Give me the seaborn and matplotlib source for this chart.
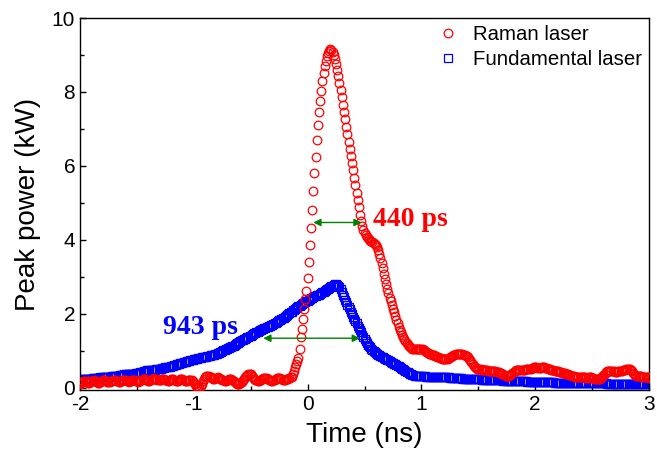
import numpy as np
import pandas as pd
import matplotlib
matplotlib.use("Agg")
import matplotlib.pyplot as plt
import seaborn as sns
from matplotlib.ticker import MultipleLocator

# Sampling grid of the measured traces (ns)
t_start, t_stop, n_samples = -2.0, 3.0, 501
time_ns = np.linspace(t_start, t_stop, n_samples)

# Raman laser peak power (kW), one value per 0.01 ns
raman_kw = [
    0.10, 0.12, 0.15, 0.17, 0.18, 0.17, 0.15, 0.13, 0.13, 0.15,
    0.17, 0.19, 0.20, 0.19, 0.17, 0.15, 0.14, 0.14, 0.16, 0.18,
    0.20, 0.21, 0.20, 0.18, 0.16, 0.15, 0.15, 0.17, 0.19, 0.21,
    0.22, 0.21, 0.19, 0.17, 0.16, 0.16, 0.18, 0.20, 0.22, 0.22,
    0.21, 0.19, 0.17, 0.16, 0.17, 0.19, 0.21, 0.22, 0.21, 0.19,
    0.17, 0.16, 0.17, 0.19, 0.22, 0.24, 0.25, 0.24, 0.22, 0.20,
    0.18, 0.18, 0.20, 0.23, 0.25, 0.26, 0.25, 0.23, 0.21, 0.20,
    0.20, 0.22, 0.24, 0.25, 0.24, 0.22, 0.20, 0.19, 0.19, 0.21,
    0.23, 0.24, 0.23, 0.21, 0.19, 0.18, 0.19, 0.21, 0.23, 0.24,
    0.23, 0.21, 0.19, 0.18, 0.18, 0.20, 0.22, 0.22, 0.20, 0.17,
    0.14, 0.10, 0.06, 0.03, 0.01, 0.02, 0.05, 0.10, 0.17, 0.24,
    0.29, 0.32, 0.33, 0.32, 0.30, 0.28, 0.26, 0.25, 0.25, 0.26,
    0.27, 0.28, 0.27, 0.25, 0.23, 0.21, 0.20, 0.19, 0.19, 0.20,
    0.22, 0.24, 0.25, 0.24, 0.22, 0.19, 0.16, 0.13, 0.11, 0.10,
    0.11, 0.13, 0.16, 0.20, 0.24, 0.28, 0.32, 0.35, 0.37, 0.37,
    0.36, 0.33, 0.29, 0.25, 0.22, 0.20, 0.19, 0.19, 0.20, 0.22,
    0.24, 0.26, 0.27, 0.27, 0.26, 0.24, 0.22, 0.20, 0.19, 0.19,
    0.20, 0.22, 0.24, 0.26, 0.27, 0.27, 0.26, 0.24, 0.22, 0.21,
    0.22, 0.23, 0.24, 0.25, 0.26, 0.28, 0.30, 0.38, 0.46, 0.56,
    0.64, 0.72, 0.81, 1.05, 1.36, 1.59, 1.86, 2.13, 2.40, 2.62,
    2.98, 3.39, 3.86, 4.33, 4.81, 5.32, 5.80, 6.25, 6.70, 7.10,
    7.46, 7.76, 8.03, 8.30, 8.52, 8.70, 8.84, 8.97, 9.06, 9.12,
    9.15, 9.14, 9.09, 9.01, 8.90, 8.76, 8.60, 8.42, 8.24, 8.05,
    7.86, 7.66, 7.46, 7.26, 7.06, 6.86, 6.66, 6.47, 6.28, 6.09,
    5.89, 5.68, 5.48, 5.28, 5.08, 4.88, 4.68, 4.52, 4.38, 4.26,
    4.18, 4.12, 4.08, 4.04, 4.01, 3.98, 3.96, 3.94, 3.92, 3.89,
    3.85, 3.80, 3.72, 3.62, 3.50, 3.37, 3.23, 3.08, 2.93, 2.80,
    2.68, 2.55, 2.44, 2.34, 2.24, 2.14, 2.04, 1.94, 1.84, 1.74,
    1.65, 1.57, 1.50, 1.43, 1.37, 1.31, 1.26, 1.21, 1.17, 1.13,
    1.10, 1.08, 1.06, 1.05, 1.04, 1.04, 1.05, 1.06, 1.06, 1.06,
    1.05, 1.04, 1.02, 1.00, 0.98, 0.96, 0.94, 0.92, 0.91, 0.90,
    0.89, 0.88, 0.87, 0.85, 0.84, 0.82, 0.81, 0.80, 0.79, 0.78,
    0.77, 0.77, 0.77, 0.78, 0.80, 0.82, 0.84, 0.86, 0.88, 0.90,
    0.91, 0.92, 0.92, 0.92, 0.92, 0.91, 0.91, 0.90, 0.89, 0.87,
    0.85, 0.82, 0.78, 0.74, 0.69, 0.64, 0.60, 0.57, 0.54, 0.52,
    0.51, 0.50, 0.50, 0.49, 0.49, 0.48, 0.48, 0.47, 0.47, 0.46,
    0.46, 0.46, 0.46, 0.46, 0.45, 0.45, 0.44, 0.43, 0.42, 0.41,
    0.40, 0.38, 0.36, 0.34, 0.33, 0.32, 0.32, 0.33, 0.35, 0.38,
    0.41, 0.44, 0.46, 0.47, 0.47, 0.47, 0.47, 0.47, 0.47, 0.48,
    0.48, 0.49, 0.50, 0.50, 0.50, 0.51, 0.52, 0.53, 0.54, 0.55,
    0.55, 0.55, 0.54, 0.53, 0.53, 0.54, 0.55, 0.55, 0.55, 0.54,
    0.53, 0.52, 0.51, 0.50, 0.49, 0.48, 0.47, 0.46, 0.46, 0.46,
    0.45, 0.44, 0.43, 0.42, 0.41, 0.40, 0.39, 0.38, 0.37, 0.36,
    0.35, 0.34, 0.33, 0.32, 0.31, 0.30, 0.29, 0.28, 0.28, 0.28,
    0.29, 0.30, 0.30, 0.29, 0.28, 0.27, 0.27, 0.28, 0.28, 0.28,
    0.27, 0.26, 0.25, 0.24, 0.23, 0.23, 0.23, 0.24, 0.26, 0.30,
    0.34, 0.38, 0.42, 0.45, 0.46, 0.46, 0.46, 0.45, 0.45, 0.45,
    0.44, 0.44, 0.44, 0.45, 0.46, 0.46, 0.46, 0.47, 0.48, 0.49,
    0.50, 0.51, 0.51, 0.50, 0.48, 0.45, 0.41, 0.37, 0.34, 0.32,
    0.31, 0.31, 0.31, 0.31, 0.30, 0.30, 0.29, 0.29, 0.28, 0.28, 0.27,
]

# Fundamental laser peak power (kW), one value per 0.01 ns
fundamental_kw = [
    0.23, 0.23, 0.23, 0.24, 0.24, 0.24, 0.24, 0.25, 0.25, 0.25,
    0.25, 0.26, 0.26, 0.26, 0.26, 0.27, 0.27, 0.27, 0.28, 0.28,
    0.28, 0.28, 0.29, 0.29, 0.29, 0.30, 0.30, 0.30, 0.31, 0.31,
    0.31, 0.32, 0.32, 0.33, 0.33, 0.34, 0.34, 0.35, 0.35, 0.36,
    0.36, 0.36, 0.37, 0.37, 0.37, 0.37, 0.37, 0.38, 0.38, 0.39,
    0.39, 0.40, 0.41, 0.42, 0.43, 0.44, 0.45, 0.46, 0.46, 0.47,
    0.47, 0.47, 0.48, 0.48, 0.48, 0.49, 0.49, 0.50, 0.50, 0.51,
    0.51, 0.52, 0.53, 0.54, 0.54, 0.55, 0.56, 0.56, 0.57, 0.57,
    0.58, 0.59, 0.60, 0.61, 0.62, 0.63, 0.64, 0.65, 0.66, 0.67,
    0.68, 0.69, 0.70, 0.71, 0.72, 0.72, 0.73, 0.74, 0.75, 0.76,
    0.77, 0.78, 0.78, 0.79, 0.80, 0.80, 0.81, 0.82, 0.82, 0.83,
    0.84, 0.84, 0.85, 0.86, 0.87, 0.88, 0.89, 0.89, 0.90, 0.91,
    0.92, 0.93, 0.95, 0.96, 0.98, 0.99, 1.01, 1.02, 1.04, 1.05,
    1.07, 1.08, 1.10, 1.11, 1.13, 1.14, 1.16, 1.18, 1.20, 1.22,
    1.24, 1.26, 1.28, 1.30, 1.31, 1.33, 1.35, 1.37, 1.38, 1.40,
    1.41, 1.43, 1.45, 1.47, 1.48, 1.50, 1.52, 1.53, 1.55, 1.56,
    1.58, 1.59, 1.61, 1.62, 1.64, 1.65, 1.67, 1.68, 1.70, 1.71,
    1.72, 1.74, 1.76, 1.78, 1.80, 1.82, 1.84, 1.86, 1.88, 1.90,
    1.92, 1.94, 1.96, 1.99, 2.01, 2.04, 2.06, 2.09, 2.11, 2.14,
    2.16, 2.18, 2.20, 2.22, 2.24, 2.26, 2.28, 2.30, 2.32, 2.34,
    2.36, 2.38, 2.40, 2.42, 2.44, 2.46, 2.48, 2.49, 2.50, 2.51,
    2.52, 2.54, 2.56, 2.58, 2.60, 2.62, 2.64, 2.66, 2.68, 2.70,
    2.72, 2.74, 2.76, 2.78, 2.80, 2.80, 2.79, 2.76, 2.72, 2.66,
    2.59, 2.52, 2.45, 2.38, 2.31, 2.25, 2.18, 2.12, 2.05, 1.99,
    1.92, 1.86, 1.80, 1.74, 1.68, 1.62, 1.56, 1.50, 1.44, 1.38,
    1.32, 1.27, 1.22, 1.17, 1.13, 1.09, 1.05, 1.02, 0.99, 0.96,
    0.94, 0.92, 0.90, 0.88, 0.86, 0.84, 0.82, 0.80, 0.79, 0.77,
    0.75, 0.74, 0.72, 0.70, 0.68, 0.67, 0.65, 0.63, 0.61, 0.60,
    0.58, 0.56, 0.54, 0.52, 0.50, 0.48, 0.46, 0.44, 0.42, 0.40,
    0.38, 0.37, 0.35, 0.34, 0.33, 0.33, 0.32, 0.32, 0.32, 0.32,
    0.31, 0.31, 0.31, 0.31, 0.30, 0.30, 0.30, 0.30, 0.30, 0.30,
    0.30, 0.30, 0.29, 0.29, 0.29, 0.29, 0.29, 0.29, 0.28, 0.28,
    0.28, 0.28, 0.28, 0.28, 0.28, 0.27, 0.27, 0.27, 0.27, 0.27,
    0.27, 0.26, 0.26, 0.26, 0.26, 0.26, 0.25, 0.25, 0.25, 0.25,
    0.25, 0.25, 0.24, 0.24, 0.24, 0.24, 0.24, 0.23, 0.23, 0.23,
    0.23, 0.23, 0.23, 0.22, 0.22, 0.22, 0.22, 0.22, 0.22, 0.21,
    0.21, 0.21, 0.21, 0.21, 0.21, 0.21, 0.20, 0.20, 0.20, 0.20,
    0.20, 0.20, 0.19, 0.19, 0.19, 0.19, 0.19, 0.19, 0.18, 0.18,
    0.18, 0.18, 0.18, 0.18, 0.18, 0.17, 0.17, 0.17, 0.17, 0.17,
    0.17, 0.17, 0.17, 0.16, 0.16, 0.16, 0.16, 0.16, 0.16, 0.16,
    0.16, 0.16, 0.16, 0.16, 0.15, 0.15, 0.15, 0.15, 0.15, 0.15,
    0.15, 0.15, 0.15, 0.15, 0.15, 0.15, 0.15, 0.14, 0.14, 0.14,
    0.14, 0.14, 0.14, 0.14, 0.14, 0.14, 0.14, 0.14, 0.14, 0.14,
    0.14, 0.14, 0.13, 0.13, 0.13, 0.13, 0.13, 0.13, 0.13, 0.13,
    0.13, 0.13, 0.13, 0.13, 0.13, 0.13, 0.13, 0.12, 0.12, 0.12,
    0.12, 0.12, 0.12, 0.12, 0.12, 0.12, 0.12, 0.12, 0.12, 0.12,
    0.12, 0.12, 0.12, 0.11, 0.11, 0.11, 0.11, 0.11, 0.11, 0.11,
    0.11, 0.11, 0.11, 0.11, 0.11, 0.11, 0.11, 0.11, 0.11, 0.11,
    0.11, 0.11, 0.10, 0.10, 0.10, 0.10, 0.10, 0.10, 0.10, 0.10,
    0.10, 0.10, 0.10, 0.10, 0.10, 0.10, 0.10, 0.10, 0.10, 0.10, 0.10,
]

series_labels = ["Raman laser", "Fundamental laser"]

# FWHM annotations: (left time, right time, power level) and labels
raman_fwhm = (0.05, 0.475, 4.47)
fund_fwhm = (-0.39, 0.46, 1.34)
raman_fwhm_label = "440 ps"
fund_fwhm_label = "943 ps"

df_raman = pd.DataFrame({"t": time_ns, "p": raman_kw})
df_fund = pd.DataFrame({"t": time_ns, "p": fundamental_kw})

sns.set_style("ticks")
plt.rcParams["font.family"] = ["Liberation Sans", "DejaVu Sans"]
plt.rcParams["axes.unicode_minus"] = False
for key in ("text.color", "axes.labelcolor", "xtick.color", "ytick.color",
            "axes.edgecolor"):
    plt.rcParams[key] = "black"

fig = plt.figure(figsize=(6.57, 4.57), dpi=100)
ax = fig.add_axes([80 / 657, 67 / 457, 569 / 657, 372 / 457])

sns.lineplot(data=df_fund, x="t", y="p", ax=ax, linestyle="", marker="s",
             ms=5.6, mfc="none", mec="blue", mew=0.9, color="blue",
             label=series_labels[1], zorder=2)
sns.lineplot(data=df_raman, x="t", y="p", ax=ax, linestyle="", marker="o",
             ms=6.2, mfc="none", mec="red", mew=0.9, color="red",
             label=series_labels[0], zorder=3)

ax.set_xlim(-2, 3)
ax.set_ylim(-0.06, 10)
ax.xaxis.set_major_locator(MultipleLocator(1))
ax.xaxis.set_minor_locator(MultipleLocator(0.5))
ax.yaxis.set_major_locator(MultipleLocator(2))
ax.yaxis.set_minor_locator(MultipleLocator(1))
ax.tick_params(which="both", direction="in", width=1.0, colors="black",
               labelsize=15, top=False, right=False)
ax.tick_params(which="major", length=4.5)
ax.tick_params(which="minor", length=3)
for s in ax.spines.values():
    s.set_visible(True)
    s.set_linewidth(1.0)
    s.set_color("black")

ax.set_xlabel("Time (ns)", fontsize=20, labelpad=6)
ax.set_ylabel("Peak power (kW)", fontsize=20, labelpad=8)

green = "#008000"
for (t0, t1, yv) in (raman_fwhm, fund_fwhm):
    ax.annotate("", xy=(t0, yv), xytext=(t1, yv),
                arrowprops=dict(arrowstyle="<|-|>", color=green, lw=1.0,
                                mutation_scale=11, shrinkA=0, shrinkB=0))

ax.text(0.575, 4.55, raman_fwhm_label, color="red", fontsize=20,
        fontweight="bold", family=["Liberation Serif"], va="center", ha="left")
ax.text(-1.27, 1.63, fund_fwhm_label, color="blue", fontsize=20,
        fontweight="bold", family=["Liberation Serif"], va="center", ha="left")

handles, labels = ax.get_legend_handles_labels()
order = [labels.index(series_labels[0]), labels.index(series_labels[1])]
ax.legend([handles[i] for i in order], [labels[i] for i in order],
          loc="upper right", bbox_to_anchor=(1.0, 1.0), frameon=False,
          fontsize=14.7, handlelength=1.2, handletextpad=0.6,
          borderaxespad=0.05, borderpad=0.3, labelspacing=0.3)

fig.savefig("out.png", dpi=100)
